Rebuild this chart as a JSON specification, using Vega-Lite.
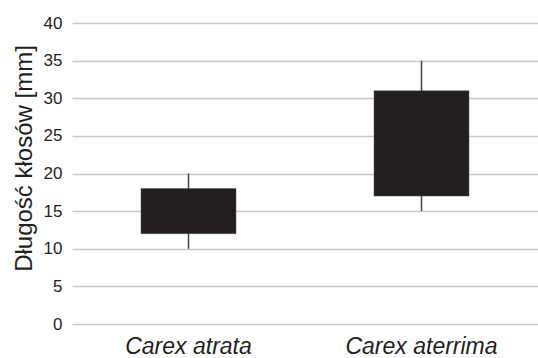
{
  "$schema": "https://vega.github.io/schema/vega-lite/v6.json",
  "autosize": "none",
  "width": 466,
  "height": 301,
  "padding": {"left": 72, "top": 23, "right": 0, "bottom": 34},
  "background": "white",
  "config": {
    "view": {"stroke": null},
    "axisY": {
      "values": [0, 5, 10, 15, 20, 25, 30, 35, 40],
      "titleFont": "Liberation Sans",
      "titleFontSize": 24,
      "titleFontWeight": "normal",
      "titleColor": "#231f20",
      "titlePadding": 7,
      "titleY": 135,
      "labelFont": "Liberation Sans",
      "labelFontSize": 17,
      "labelColor": "#231f20",
      "labelPadding": 10,
      "domain": false,
      "ticks": false,
      "grid": true,
      "gridColor": "#c8c8c8",
      "gridWidth": 1.5
    }
  },
  "data": {
    "values": [
      {"species": "Carex atrata", "min": 10, "q1": 12, "q3": 18, "max": 20},
      {"species": "Carex aterrima", "min": 15, "q1": 17, "q3": 31, "max": 35}
    ]
  },
  "encoding": {
    "x": {
      "field": "species",
      "type": "nominal",
      "sort": null,
      "scale": {"paddingInner": 0, "paddingOuter": 0},
      "axis": {
        "title": null,
        "labelAngle": 0,
        "domain": false,
        "ticks": false,
        "labelFont": "Liberation Sans",
        "labelFontSize": 23,
        "labelFontStyle": "italic",
        "labelColor": "#231f20",
        "labelPadding": 11
      }
    }
  },
  "layer": [
    {
      "mark": {"type": "rule", "color": "#444444", "strokeWidth": 1.5},
      "encoding": {
        "y": {
          "field": "min",
          "type": "quantitative",
          "scale": {"domain": [0, 40], "nice": false},
          "axis": {"title": "Długość kłosów [mm]"}
        },
        "y2": {"field": "max"}
      }
    },
    {
      "mark": {"type": "bar", "color": "#231f20", "size": 95, "stroke": "#555555", "strokeWidth": 0.5},
      "encoding": {
        "y": {"field": "q1", "type": "quantitative", "axis": {"title": "Długość kłosów [mm]"}},
        "y2": {"field": "q3"}
      }
    }
  ]
}
